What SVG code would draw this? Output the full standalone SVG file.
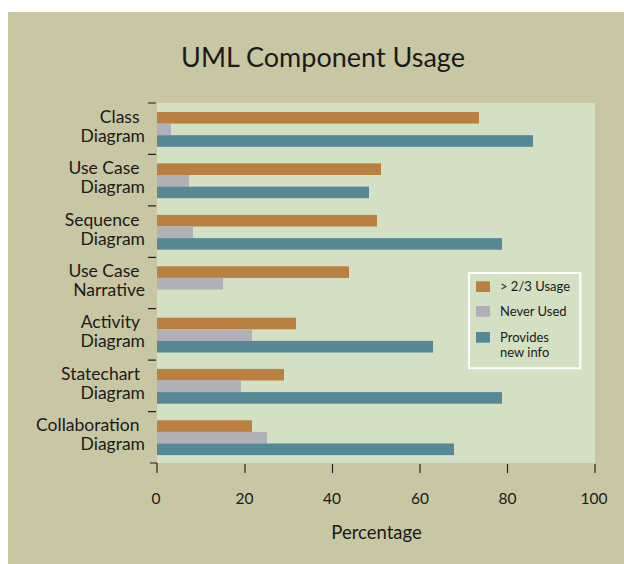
<svg xmlns="http://www.w3.org/2000/svg" width="624" height="564" viewBox="0 0 624 564">
  <style>
    text { font-family: Lato, "Liberation Sans", sans-serif; fill: #1a1a1a; }
    .title { font-size: 27px; text-anchor: middle; }
    .cat { font-size: 17.5px; text-anchor: end; }
    .tick { font-size: 15.5px; text-anchor: middle; }
    .axis { font-size: 18.5px; text-anchor: middle; }
    .leg { font-size: 13px; }
    .o { fill: #B98041; }
    .g { fill: #B0B0B6; }
    .b { fill: #578896; }
    .tk { stroke: #222; stroke-width: 1.2; fill: none; }
  </style>
  <rect x="8" y="12" width="616" height="552" fill="#C9C6A4"/>
  <text class="title" x="323" y="67">UML Component Usage</text>
  <rect id="plot" x="157" y="103" width="438" height="360" fill="#D4E0C3"/>

  <g id="axes">
    <path class="tk" d="M148 103H156M148 154.4H156M148 205.9H156M148 257.3H156M148 308.7H156M148 360.1H156M148 411.6H156M150 463H157"/>
    <path class="tk" d="M157 463V473M245 464V473M332.5 464V473M420 464V473M507.5 464V473M595 464V473"/>
    <text class="tick" x="156" y="504">0</text>
    <text class="tick" x="244.5" y="504">20</text>
    <text class="tick" x="332" y="504">40</text>
    <text class="tick" x="420" y="504">60</text>
    <text class="tick" x="507.5" y="504">80</text>
    <text class="tick" x="594" y="504">100</text>
    <text class="axis" x="376.5" y="539">Percentage</text>
  </g>

  <g id="class-diagram">
    <text class="cat" x="139.5" y="122.7">Class</text>
    <text class="cat" x="145" y="141.7">Diagram</text>
    <rect class="o" x="157" y="112" width="322" height="11.6"/>
    <rect class="g" x="157" y="123.6" width="14" height="11.6"/>
    <rect class="b" x="157" y="135.2" width="376" height="11.6"/>
  </g>
  <g id="use-case-diagram">
    <text class="cat" x="139.5" y="174.1">Use Case</text>
    <text class="cat" x="145" y="193.1">Diagram</text>
    <rect class="o" x="157" y="163.4" width="224" height="11.6"/>
    <rect class="g" x="157" y="175" width="32" height="11.6"/>
    <rect class="b" x="157" y="186.6" width="212" height="11.6"/>
  </g>
  <g id="sequence-diagram">
    <text class="cat" x="139.5" y="225.6">Sequence</text>
    <text class="cat" x="145" y="244.6">Diagram</text>
    <rect class="o" x="157" y="214.9" width="220" height="11.6"/>
    <rect class="g" x="157" y="226.5" width="36" height="11.6"/>
    <rect class="b" x="157" y="238.1" width="345" height="11.6"/>
  </g>
  <g id="use-case-narrative">
    <text class="cat" x="139.5" y="277">Use Case</text>
    <text class="cat" x="145" y="296">Narrative</text>
    <rect class="o" x="157" y="266.3" width="192" height="11.6"/>
    <rect class="g" x="157" y="277.9" width="66" height="11.6"/>
  </g>
  <g id="activity-diagram">
    <text class="cat" x="140" y="328.4">Activity</text>
    <text class="cat" x="145" y="347.4">Diagram</text>
    <rect class="o" x="157" y="317.7" width="139" height="11.6"/>
    <rect class="g" x="157" y="329.3" width="95" height="11.6"/>
    <rect class="b" x="157" y="340.9" width="276" height="11.6"/>
  </g>
  <g id="statechart-diagram">
    <text class="cat" x="140" y="379.9">Statechart</text>
    <text class="cat" x="145" y="398.9">Diagram</text>
    <rect class="o" x="157" y="368.9" width="127" height="11.6"/>
    <rect class="g" x="157" y="380.5" width="84" height="11.6"/>
    <rect class="b" x="157" y="392.1" width="345" height="11.6"/>
  </g>
  <g id="collaboration-diagram">
    <text class="cat" x="139.5" y="431.3">Collaboration</text>
    <text class="cat" x="145" y="450.3">Diagram</text>
    <rect class="o" x="157" y="420.3" width="95" height="11.6"/>
    <rect class="g" x="157" y="431.9" width="110" height="11.6"/>
    <rect class="b" x="157" y="443.5" width="297" height="11.6"/>
  </g>

  <g id="legend">
    <rect x="469" y="273" width="111.3" height="95.3" fill="none" stroke="#FFFFFF" stroke-width="2"/>
    <rect class="o" x="476" y="281.3" width="14" height="10.7"/>
    <text class="leg" x="500" y="290.7">&gt; 2/3 Usage</text>
    <rect class="g" x="476" y="306" width="14" height="10.7"/>
    <text class="leg" x="500" y="316">Never Used</text>
    <rect class="b" x="476" y="332" width="14" height="10.7"/>
    <text class="leg" x="500" y="342">Provides</text>
    <text class="leg" x="500" y="357.3">new info</text>
  </g>
</svg>
